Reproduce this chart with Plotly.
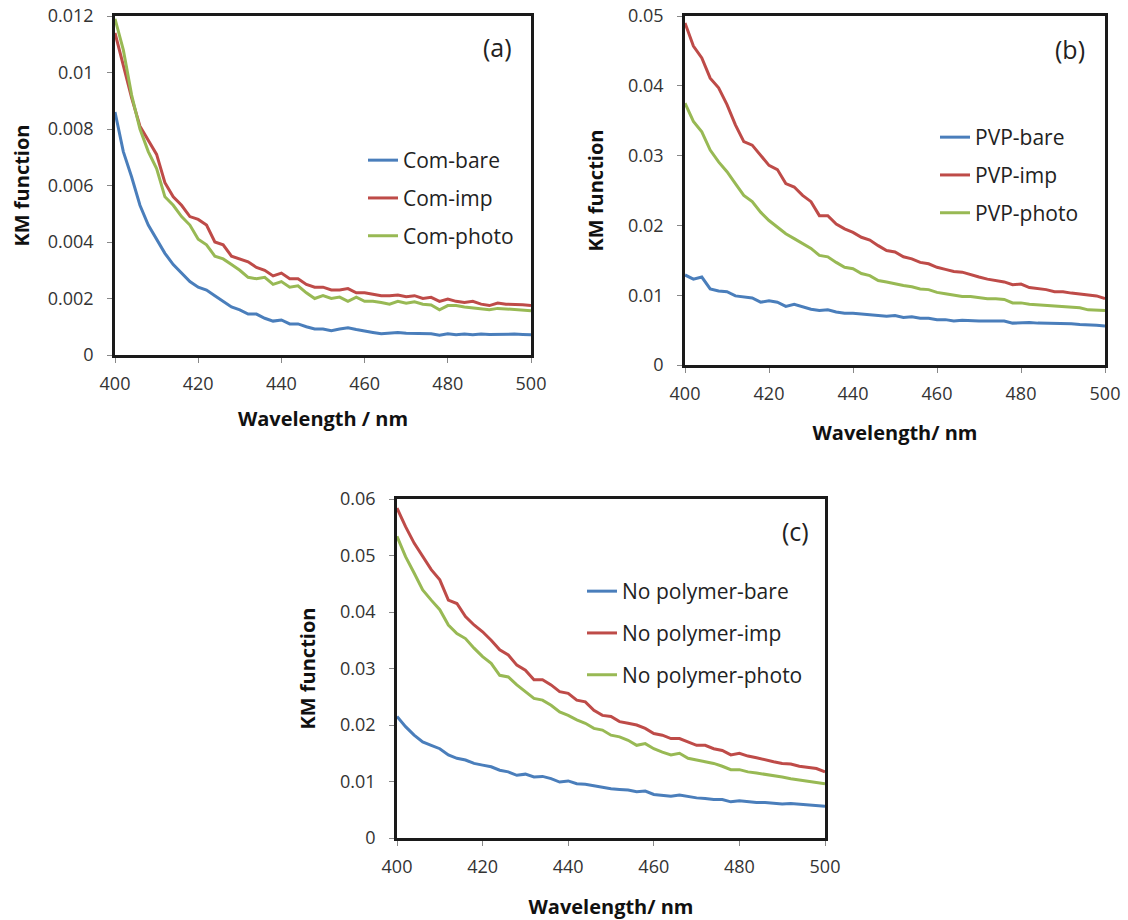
import plotly.graph_objects as go

# Wavelength grid (nm)
wavelength = list(range(400, 501, 2))

# Panel (a) - Com
com_bare = [0.0086, 0.0072, 0.0063, 0.0053, 0.0046, 0.0041, 0.0036, 0.0032, 0.0029, 0.0026,
            0.0024, 0.0023, 0.0021, 0.0019, 0.0017, 0.0016, 0.00145, 0.00145, 0.0013, 0.0012,
            0.00124, 0.0011, 0.0011, 0.0010, 0.00092, 0.00092, 0.00086, 0.00092, 0.00096, 0.0009,
            0.00086, 0.0008, 0.00075, 0.00077, 0.0008, 0.00077, 0.00077, 0.00075, 0.00075, 0.0007,
            0.00075, 0.00072, 0.00074, 0.00072, 0.00074, 0.00073, 0.00074, 0.00073, 0.00074, 0.00073,
            0.00072]
com_imp = [0.0114, 0.0102, 0.0091, 0.0081, 0.0076, 0.0071, 0.0061, 0.0056, 0.0053, 0.0049,
           0.0048, 0.0046, 0.0040, 0.0039, 0.0035, 0.0034, 0.0033, 0.0031, 0.0030, 0.0028,
           0.0029, 0.0027, 0.0027, 0.0025, 0.0024, 0.0024, 0.0023, 0.0023, 0.00235, 0.0022,
           0.0022, 0.00215, 0.0021, 0.0021, 0.00212, 0.00206, 0.0021, 0.0020, 0.00204, 0.0019,
           0.00198, 0.0019, 0.00186, 0.0019, 0.0018, 0.00175, 0.00184, 0.0018, 0.0018, 0.00178,
           0.00175]
com_photo = [0.0119, 0.0108, 0.0092, 0.0080, 0.0072, 0.0066, 0.0056, 0.0053, 0.0049, 0.0046,
             0.0041, 0.0039, 0.0035, 0.0034, 0.0032, 0.0030, 0.00275, 0.0027, 0.00275, 0.0025,
             0.0026, 0.0024, 0.00245, 0.0022, 0.0020, 0.0021, 0.0020, 0.00205, 0.0019, 0.00205,
             0.0019, 0.0019, 0.00186, 0.0018, 0.0019, 0.00183, 0.00188, 0.0018, 0.00177, 0.0016,
             0.00175, 0.00175, 0.0017, 0.00166, 0.00163, 0.0016, 0.00165, 0.00163, 0.0016, 0.00157,
             0.00157]

# Panel (b) - PVP
pvp_bare = [0.0129, 0.0123, 0.0126, 0.0109, 0.0106, 0.0105, 0.0099, 0.0097, 0.0096, 0.0090,
            0.0092, 0.0090, 0.0084, 0.0087, 0.0083, 0.0080, 0.0078, 0.0079, 0.0076, 0.0074,
            0.0074, 0.0073, 0.0073, 0.0071, 0.0070, 0.0071, 0.0068, 0.0069, 0.0067, 0.0067,
            0.0065, 0.0065, 0.0063, 0.0064, 0.0063, 0.0063, 0.0063, 0.0063, 0.0063, 0.0060,
            0.0061, 0.0061, 0.0060, 0.0060, 0.0059, 0.0059, 0.0059, 0.0058, 0.0058, 0.0057,
            0.0056]
pvp_imp = [0.0490, 0.0457, 0.0440, 0.0411, 0.0397, 0.0373, 0.0344, 0.0320, 0.0315, 0.0301,
           0.0286, 0.0280, 0.0260, 0.0255, 0.0243, 0.0234, 0.0214, 0.0214, 0.0202, 0.0195,
           0.0190, 0.0183, 0.0179, 0.0171, 0.0164, 0.0162, 0.0155, 0.0152, 0.0147, 0.0145,
           0.0140, 0.0137, 0.0134, 0.0133, 0.0129, 0.0126, 0.0123, 0.0121, 0.0119, 0.0115,
           0.0116, 0.0111, 0.0110, 0.0108, 0.0105, 0.0105, 0.0103, 0.0102, 0.0100, 0.0099,
           0.0095]
pvp_photo = [0.0375, 0.0349, 0.0334, 0.0308, 0.0291, 0.0277, 0.0260, 0.0243, 0.0234, 0.0219,
             0.0207, 0.0198, 0.0188, 0.0181, 0.0174, 0.0167, 0.0157, 0.0155, 0.0147, 0.0140,
             0.0138, 0.0131, 0.0128, 0.0121, 0.0119, 0.0116, 0.0114, 0.0112, 0.0109, 0.0108,
             0.0104, 0.0102, 0.0100, 0.0098, 0.0098, 0.0096, 0.0095, 0.0095, 0.0094, 0.0089,
             0.0089, 0.0087, 0.0086, 0.0086, 0.0084, 0.0083, 0.0083, 0.0082, 0.0079, 0.0079,
             0.0078]

# Panel (c) - No polymer
np_bare = [0.0215, 0.0197, 0.0182, 0.0170, 0.0164, 0.0158, 0.0147, 0.0141, 0.0138, 0.0132,
           0.0129, 0.0126, 0.0120, 0.0117, 0.0111, 0.0113, 0.0108, 0.0109, 0.0105, 0.0099,
           0.0101, 0.0096, 0.0095, 0.0092, 0.0089, 0.0087, 0.0086, 0.0085, 0.0082, 0.0083,
           0.0077, 0.0076, 0.0074, 0.0076, 0.0073, 0.0071, 0.0070, 0.0068, 0.0068, 0.0064,
           0.0066, 0.0064, 0.0063, 0.0063, 0.0061, 0.0060, 0.0061, 0.0060, 0.0059, 0.0058,
           0.0056]
np_imp = [0.0584, 0.0551, 0.0522, 0.0498, 0.0475, 0.0457, 0.0421, 0.0415, 0.0392, 0.0377,
          0.0365, 0.0350, 0.0333, 0.0324, 0.0306, 0.0297, 0.0280, 0.0280, 0.0271, 0.0259,
          0.0256, 0.0244, 0.0241, 0.0226, 0.0217, 0.0215, 0.0206, 0.0203, 0.0200, 0.0194,
          0.0185, 0.0182, 0.0176, 0.0176, 0.0170, 0.0164, 0.0164, 0.0158, 0.0155, 0.0147,
          0.0150, 0.0145, 0.0142, 0.0138, 0.0135, 0.0132, 0.0131, 0.0127, 0.0125, 0.0123,
          0.0117]
np_photo = [0.0534, 0.0498, 0.0469, 0.0439, 0.0421, 0.0404, 0.0377, 0.0362, 0.0353, 0.0336,
            0.0321, 0.0309, 0.0288, 0.0285, 0.0271, 0.0259, 0.0247, 0.0244, 0.0235, 0.0223,
            0.0217, 0.0209, 0.0203, 0.0194, 0.0191, 0.0182, 0.0179, 0.0173, 0.0164, 0.0167,
            0.0158, 0.0152, 0.0147, 0.0150, 0.0141, 0.0138, 0.0135, 0.0132, 0.0127, 0.0121,
            0.0121, 0.0117, 0.0115, 0.0113, 0.0111, 0.0108, 0.0105, 0.0103, 0.0101, 0.0099,
            0.0096]

names_a = ["Com-bare", "Com-imp", "Com-photo"]
names_b = ["PVP-bare", "PVP-imp", "PVP-photo"]
names_c = ["No polymer-bare", "No polymer-imp", "No polymer-photo"]
colors = ["#4A7EBB", "#BE4B48", "#98B954"]

FONT = "Open Sans"
W, H = 1128, 920

fig = go.Figure()

panels = [
    ("x", "y", "legend", names_a, [com_bare, com_imp, com_photo]),
    ("x2", "y2", "legend2", names_b, [pvp_bare, pvp_imp, pvp_photo]),
    ("x3", "y3", "legend3", names_c, [np_bare, np_imp, np_photo]),
]
for xa, ya, lg, names, series in panels:
    for i, (nm, ys) in enumerate(zip(names, series)):
        fig.add_trace(go.Scatter(
            x=wavelength, y=ys, name=nm, mode="lines",
            line=dict(color=colors[i], width=3),
            xaxis=xa, yaxis=ya, legend=lg, legendgroup=lg + str(i),
        ))


def px_x(p):
    return p / W


def px_y(p):
    return 1 - p / H


# screen-pixel boxes of plot areas: (left, right, top, bottom)
boxes = [(115, 531, 16, 355), (685, 1105, 16, 365), (397, 825, 499, 838)]

axis_common = dict(
    showline=True, mirror=True, linecolor="#1a1a1a", linewidth=2.5,
    showgrid=False, zeroline=False, ticks="outside", ticklen=5,
    tickcolor="#888888", tickwidth=1, automargin=False,
    tickfont=dict(family=FONT, size=18, color="#333333"),
)
title_font = dict(family=FONT, size=20, color="#111111")

xtitles = ["<b>Wavelength / nm</b>", "<b>Wavelength/ nm</b>", "<b>Wavelength/ nm</b>"]
ymax = [0.012, 0.05, 0.06]
ydt = [0.002, 0.01, 0.01]
x_standoff = [18, 22, 27]
y_standoff = [13, 20, 20]
lay = {}
for k, (l, r, t, b) in enumerate(boxes):
    sfx = "" if k == 0 else str(k + 1)
    lay["xaxis" + sfx] = dict(
        axis_common, domain=[px_x(l), px_x(r)], range=[400, 500], dtick=20, tick0=400,
        anchor="y" + sfx, ticklabelstandoff=6,
        title=dict(text=xtitles[k], font=title_font, standoff=x_standoff[k]),
    )
    lay["yaxis" + sfx] = dict(
        axis_common, domain=[px_y(b), px_y(t)], range=[0, ymax[k]], dtick=ydt[k], tick0=0,
        anchor="x" + sfx, ticklabelstandoff=10,
        title=dict(text="<b>KM function</b>", font=title_font, standoff=y_standoff[k]),
    )

legend_common = dict(
    font=dict(family=FONT, size=21, color="#222222"),
    bgcolor="rgba(0,0,0,0)", borderwidth=0, xanchor="left", yanchor="top",
    tracegroupgap=7.5,
)
lay["legend"] = dict(legend_common, x=px_x(363), y=px_y(140))
lay["legend2"] = dict(legend_common, x=px_x(935), y=px_y(117))
lay["legend3"] = dict(legend_common, x=px_x(582), y=px_y(571), tracegroupgap=11.5)

fig.update_layout(
    width=W, height=H, autosize=False,
    margin=dict(l=0, r=0, t=0, b=0),
    paper_bgcolor="white", plot_bgcolor="white",
    showlegend=True,
    **lay,
)

labels = [("(a)", 497, 47), ("(b)", 1070, 49), ("(c)", 795, 531)]
for txt, px, py in labels:
    fig.add_annotation(
        text=txt, x=px_x(px), y=px_y(py), xref="paper", yref="paper",
        showarrow=False, font=dict(family=FONT, size=25, color="#222222"),
        xanchor="center", yanchor="middle",
    )

# remove the default page margin so the figure sits at the window origin
fig.write_html(
    "out.html",
    config={"displayModeBar": False},
    post_script="document.body.style.margin='0';",
)
